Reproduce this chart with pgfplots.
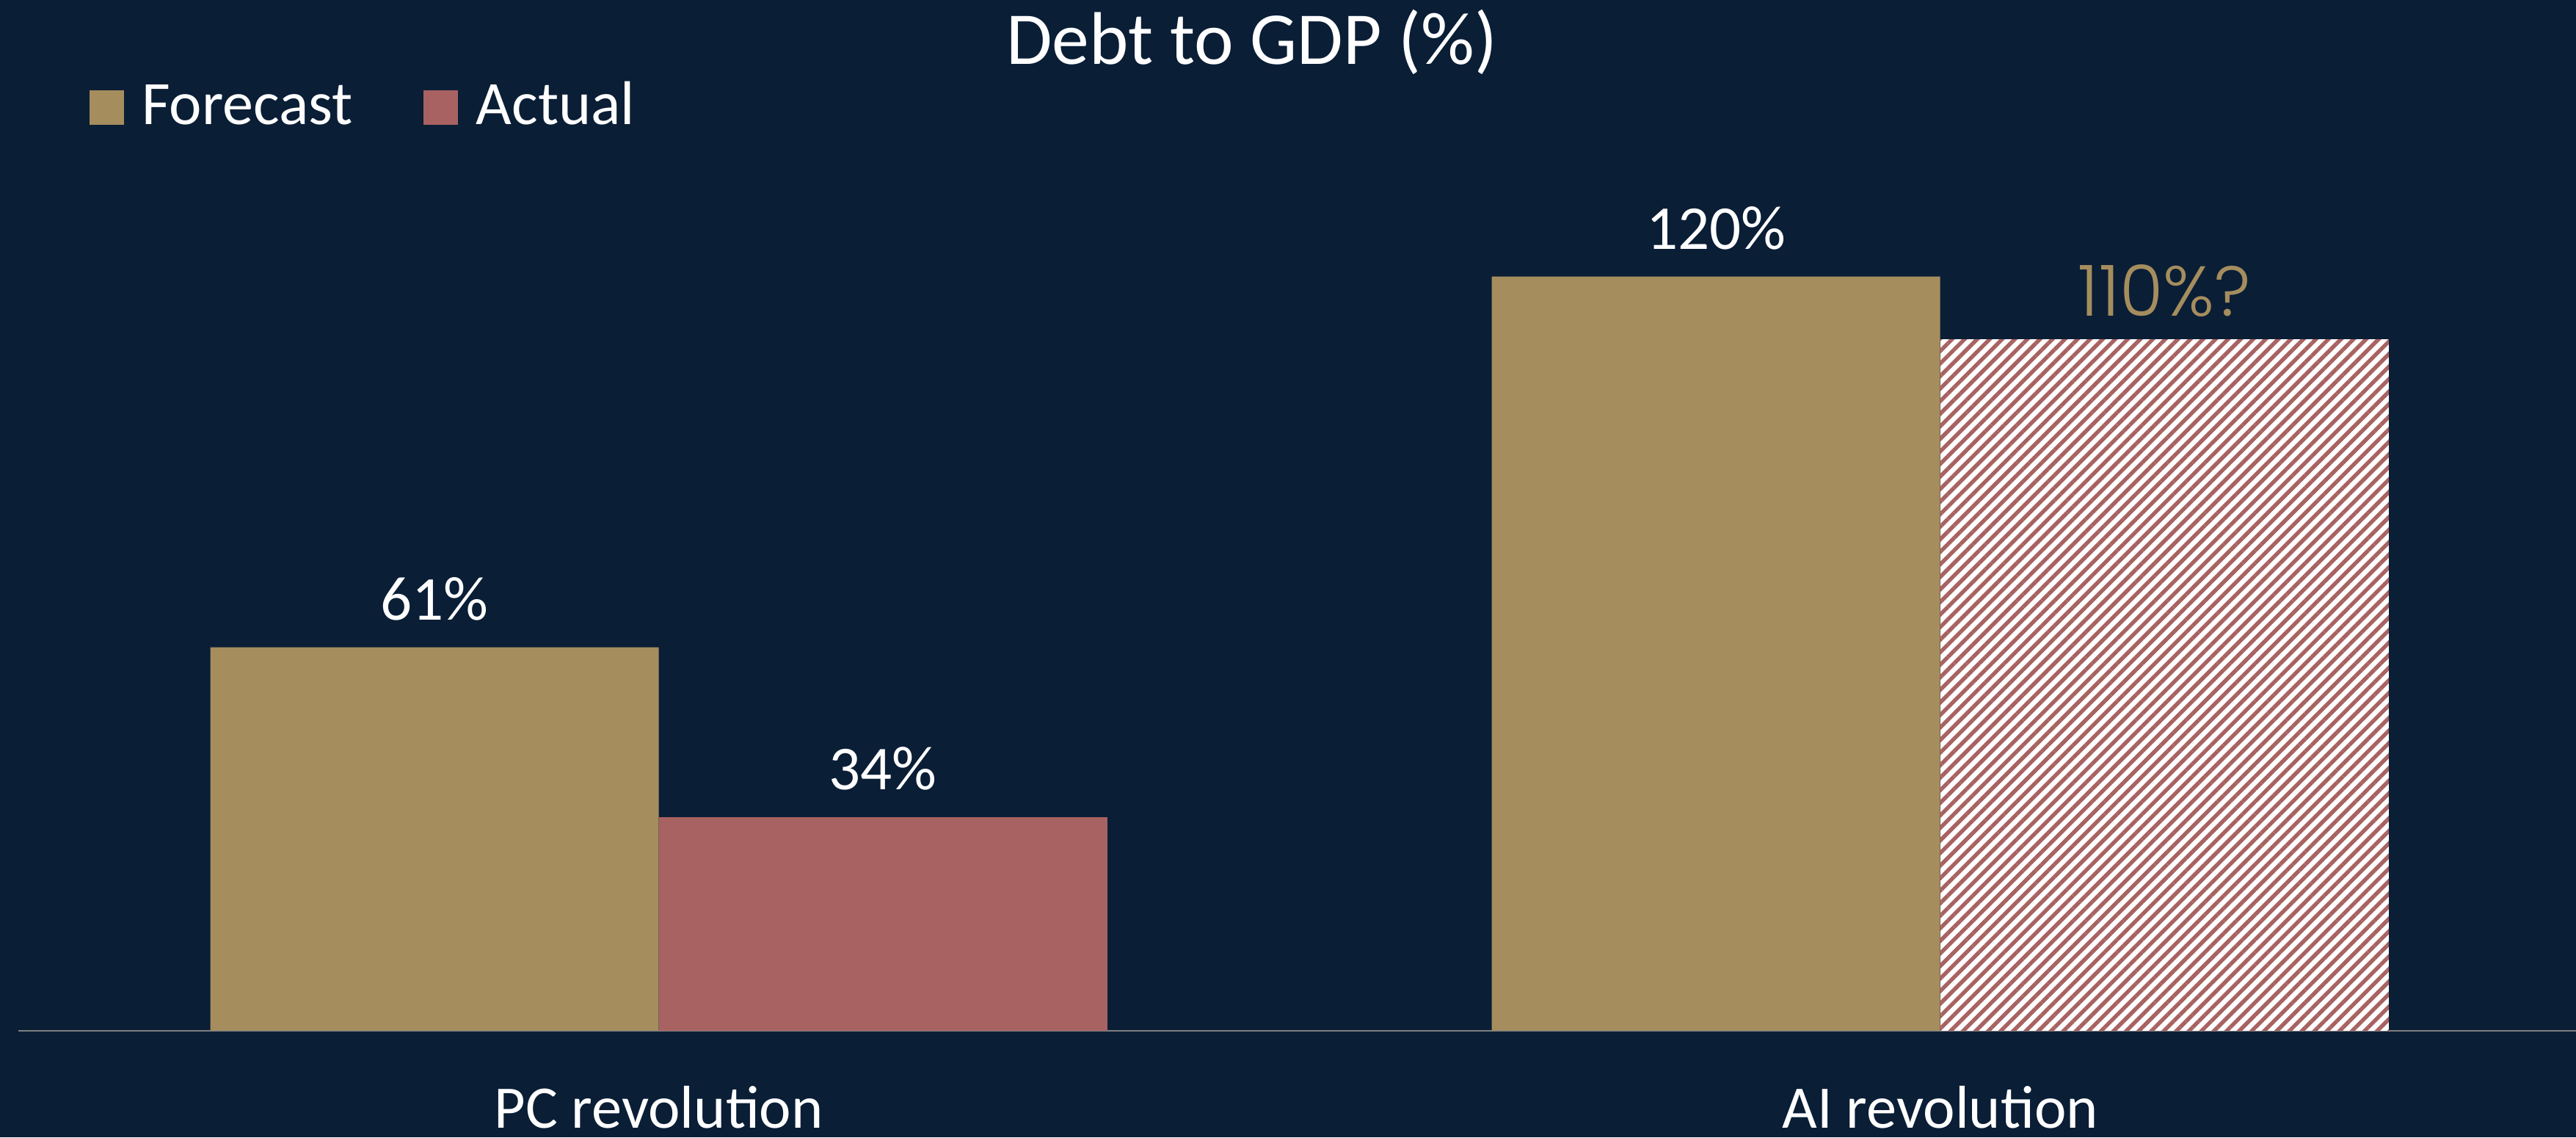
\documentclass[border=0pt]{standalone}
\usepackage{fontspec}
\setmainfont{Carlito}
\newfontfamily\popfont{Poppins Light}
\usepackage{pgfplots}
\pgfplotsset{compat=1.18}
\usetikzlibrary{patterns.meta}
\definecolor{bg}{HTML}{0A1E36}
\definecolor{gold}{HTML}{A58D5E}
\definecolor{rose}{HTML}{A86262}
\definecolor{axgray}{HTML}{7F7F7F}
\begin{document}
\begin{tikzpicture}
\fill[bg] (0,0) rectangle (784pt,346pt);
\begin{axis}[
  at={(5.5pt,32.5pt)}, anchor=south west,
  scale only axis, width=780pt, height=305.8pt,
  xmin=-0.5, xmax=1.5, ymin=0, ymax=160,
  ybar, bar width=0.35,
  /pgf/number format/assume math mode=true,
  axis x line*=bottom, axis y line=none,
  x axis line style={draw=axgray, line width=0.45pt},
  xtick={0,1}, xticklabels={PC revolution, AI revolution},
  major tick length=0pt,
  xticklabel style={anchor=base, yshift=-29.75pt, font=\fontsize{18.4}{20}\selectfont, text=white, inner sep=0pt},
  ytick=\empty,
  title={Debt to GDP (\%)},
  title style={at={(0.4814,0.9614)}, anchor=base, yshift=-6pt, font=\fontsize{22.7}{26}\selectfont, text=white, inner sep=0pt},
  legend columns=2,
  legend entries={Forecast, Actual},
  legend image code/.code={\fill[#1] (0pt,0pt) rectangle (10.5pt,10.5pt);},
  legend style={at={(0.02756,0.8955)}, anchor=south west, draw=none, fill=none, inner sep=0pt,
    font=\fontsize{18.8}{20}\selectfont,
    nodes={inner sep=0pt, anchor=base west, text=white, font=\fontsize{18.8}{20}\selectfont},
    column sep=5.5pt, /tikz/every even column/.append style={column sep=21.5pt}},
  nodes near coords={\pgfmathprintnumber{\pgfplotspointmeta}\%},
  every node near coord/.append style={inner sep=0pt, yshift=8pt, text=white, font=\fontsize{19}{20}\selectfont},
  clip=false,
]
\addplot[fill=gold, draw=none, bar shift=-0.175] coordinates {(0,61) (1,120)};
\addplot[fill=rose, draw=none, bar shift=0.175] coordinates {(0,34)};
\addplot[fill=white, draw=none, bar shift=0.175,
  postaction={pattern={Lines[angle=45,distance=2.7pt,line width=1.2pt]}, pattern color=rose},
  nodes near coords={110\%?},
  every node near coord/.append style={text=gold, yshift=-1.25pt, font=\popfont\fontsize{21.5}{24}\selectfont},
  forget plot] coordinates {(1,110)};
\end{axis}
\pgfresetboundingbox
\path[use as bounding box] (0,0) rectangle (784pt,346pt);
\end{tikzpicture}
\end{document}
